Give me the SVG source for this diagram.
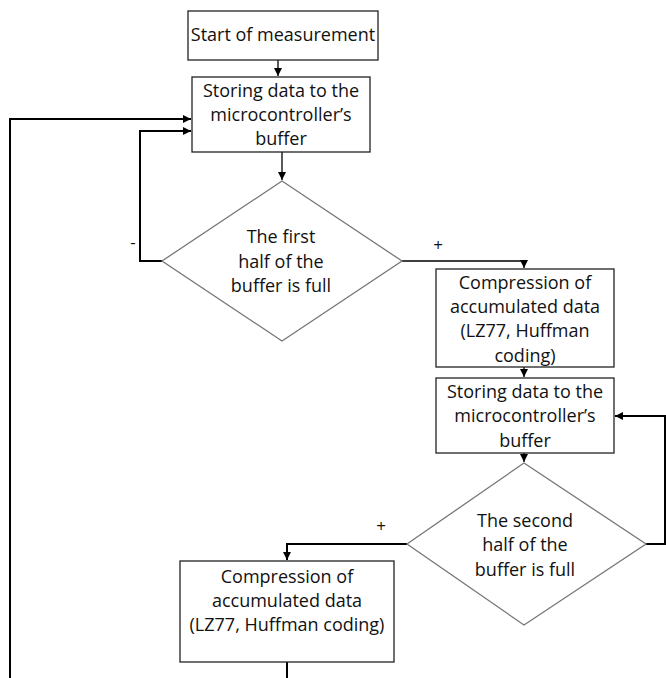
<svg xmlns="http://www.w3.org/2000/svg" width="666" height="678" viewBox="0 0 666 678">
<style>
.box{fill:#fff;stroke:#222;stroke-width:1.3}
.dia{fill:#fff;stroke:#777;stroke-width:1.3}
.t{font-family:"Open Sans","Liberation Sans",sans-serif;font-size:18px;fill:#111;text-anchor:middle}
.c{fill:none;stroke:#000;stroke-width:1.3}
.ct{fill:none;stroke:#000;stroke-width:2}
.lbl{font-family:"Open Sans","Liberation Sans",sans-serif;font-size:17px;fill:#111;text-anchor:middle}
</style>
<defs>
<marker id="ah" viewBox="0 0 10 10" refX="10" refY="5" markerWidth="8" markerHeight="8" markerUnits="userSpaceOnUse" orient="auto">
<path d="M0,0 L10,5 L0,10 Z" fill="#000"/>
</marker>
</defs>
<rect width="666" height="678" fill="#fff"/>
<g id="connectors">
<path class="c" d="M278,60 V76" marker-end="url(#ah)"/>
<path class="c" d="M282,152 V180" marker-end="url(#ah)"/>
<path class="ct" d="M162,261 H140 V131 H191" marker-end="url(#ah)"/>
<path class="ct" d="M10,678 V119 H191" marker-end="url(#ah)"/>
<path class="c" d="M402,261 H524 V268" marker-end="url(#ah)"/>
<path class="c" d="M524,367 V377" marker-end="url(#ah)"/>
<path class="c" d="M524,453 V462" marker-end="url(#ah)"/>
<path class="ct" d="M646,544 H665 V416 H615" marker-end="url(#ah)"/>
<path class="ct" d="M407,544 H287 V560" marker-end="url(#ah)"/>
<path class="ct" d="M287,662 V678"/>
<text class="lbl" x="133" y="248">-</text>
<text class="lbl" x="438" y="251">+</text>
<text class="lbl" x="381" y="532">+</text>
</g>
<g id="start">
<rect class="box" x="188" y="11" width="190" height="49"/>
<text class="t" x="283" y="41">Start of measurement</text>
</g>
<g id="store1">
<rect class="box" x="192" y="77" width="178" height="75"/>
<text class="t" x="281" y="97">Storing data to the</text>
<text class="t" x="281" y="121">microcontroller’s</text>
<text class="t" x="281" y="145">buffer</text>
</g>
<g id="dec1">
<polygon class="dia" points="282,181 402,261 282,341 162,261"/>
<text class="t" x="281" y="243">The first</text>
<text class="t" x="281" y="268">half of the</text>
<text class="t" x="281" y="292">buffer is full</text>
</g>
<g id="comp1">
<rect class="box" x="436" y="269" width="178" height="98"/>
<text class="t" x="525" y="289">Compression of</text>
<text class="t" x="525" y="313">accumulated data</text>
<text class="t" x="525" y="337">(LZ77, Huffman</text>
<text class="t" x="525" y="362">coding)</text>
</g>
<g id="store2">
<rect class="box" x="436" y="378" width="178" height="75"/>
<text class="t" x="525" y="398">Storing data to the</text>
<text class="t" x="525" y="422">microcontroller’s</text>
<text class="t" x="525" y="447">buffer</text>
</g>
<g id="dec2">
<polygon class="dia" points="524,463 646,544 524,625 407,544"/>
<text class="t" x="525" y="527">The second</text>
<text class="t" x="525" y="551">half of the</text>
<text class="t" x="525" y="576">buffer is full</text>
</g>
<g id="comp2">
<rect class="box" x="180" y="561" width="214" height="101"/>
<text class="t" x="287" y="583">Compression of</text>
<text class="t" x="287" y="607">accumulated data</text>
<text class="t" x="287" y="631">(LZ77, Huffman coding)</text>
</g>
</svg>
